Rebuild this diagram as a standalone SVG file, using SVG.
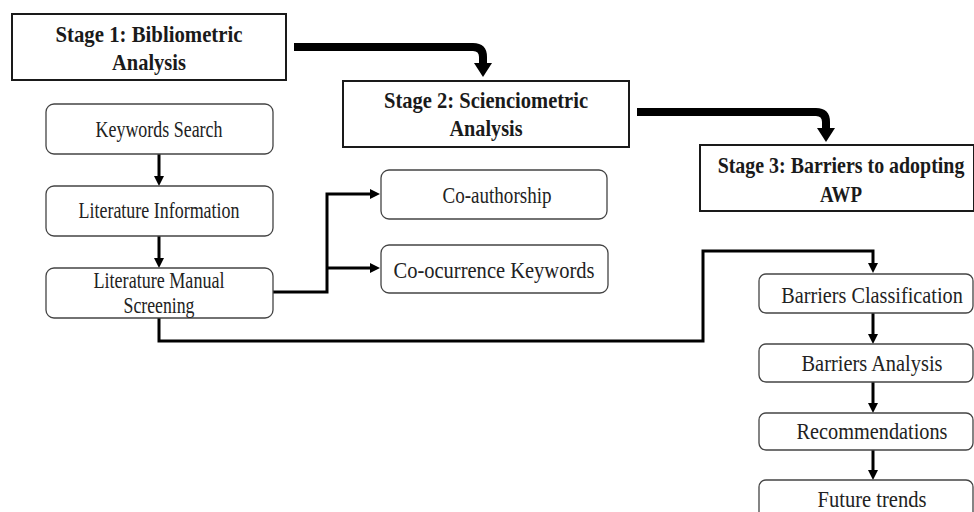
<svg xmlns="http://www.w3.org/2000/svg" width="974" height="512" viewBox="0 0 974 512">
<style>
.stage{fill:#fff;stroke:#1a1a1a;stroke-width:2}
.node{fill:#fff;stroke:#444;stroke-width:1.3}
.bt{font-family:"Liberation Serif","Times New Roman",serif;font-weight:bold;font-size:24px;fill:#1a1a1a;text-anchor:middle}
.t{font-family:"Liberation Serif","Times New Roman",serif;font-size:23px;fill:#222;text-anchor:middle}
.c{fill:none;stroke:#000;stroke-width:3}
.thick{fill:none;stroke:#000;stroke-width:8}
</style>
<defs>
<marker id="ah" markerUnits="userSpaceOnUse" markerWidth="10" markerHeight="10" refX="2" refY="5" orient="auto">
<path d="M0,0 L10,5 L0,10 z" fill="#000"/>
</marker>
</defs>
<rect width="974" height="512" fill="#fff"/>
<g id="connectors">
<path class="thick" d="M294,47 H473 Q483,47 483,57 V64"/>
<polygon points="474,63 492,63 483,77" fill="#000"/>
<path class="thick" d="M637,112 H816 Q826,112 826,122 V129"/>
<polygon points="817,128 835,128 826,142" fill="#000"/>
<path class="c" d="M159,154 V178" marker-end="url(#ah)"/>
<path class="c" d="M159,236 V260" marker-end="url(#ah)"/>
<path class="c" d="M273,292 H327 V194 H372" marker-end="url(#ah)"/>
<path class="c" d="M327,268 H372" marker-end="url(#ah)"/>
<path class="c" d="M159,318 V341 H703 V251 H873 V265" marker-end="url(#ah)"/>
<path class="c" d="M873,313 V336" marker-end="url(#ah)"/>
<path class="c" d="M873,382 V405" marker-end="url(#ah)"/>
<path class="c" d="M873,450 V472" marker-end="url(#ah)"/>
</g>
<g id="stage1">
<rect class="stage" x="12" y="14" width="274" height="66"/>
<text class="bt" x="149" y="42" textLength="187" lengthAdjust="spacingAndGlyphs">Stage 1: Bibliometric</text>
<text class="bt" x="149" y="70" textLength="74" lengthAdjust="spacingAndGlyphs">Analysis</text>
</g>
<g id="stage2">
<rect class="stage" x="343" y="81" width="286" height="66"/>
<text class="bt" x="486" y="108" textLength="204" lengthAdjust="spacingAndGlyphs">Stage 2: Scienciometric</text>
<text class="bt" x="486" y="136" textLength="73" lengthAdjust="spacingAndGlyphs">Analysis</text>
</g>
<g id="stage3">
<rect class="stage" x="700" y="145" width="274" height="66"/>
<text class="bt" transform="translate(841,173) scale(0.83,1)" x="0" y="0">Stage 3: Barriers to adopting</text>
<text class="bt" x="841" y="202" textLength="42" lengthAdjust="spacingAndGlyphs">AWP</text>
</g>
<g id="keywords-search">
<rect class="node" x="46" y="104" width="227" height="50" rx="8"/>
<text class="t" x="159" y="137" textLength="127" lengthAdjust="spacingAndGlyphs">Keywords Search</text>
</g>
<g id="literature-information">
<rect class="node" x="46" y="186" width="227" height="50" rx="8"/>
<text class="t" x="159" y="218" textLength="161" lengthAdjust="spacingAndGlyphs">Literature Information</text>
</g>
<g id="literature-manual-screening">
<rect class="node" x="46" y="268" width="227" height="50" rx="8"/>
<text class="t" x="159" y="288" textLength="131" lengthAdjust="spacingAndGlyphs">Literature Manual</text>
<text class="t" x="159" y="313" textLength="71" lengthAdjust="spacingAndGlyphs">Screening</text>
</g>
<g id="co-authorship">
<rect class="node" x="381" y="170" width="226" height="49" rx="8"/>
<text class="t" x="497" y="203" textLength="109" lengthAdjust="spacingAndGlyphs">Co-authorship</text>
</g>
<g id="co-ocurrence-keywords">
<rect class="node" x="381" y="245" width="227" height="48" rx="8"/>
<text class="t" x="494" y="278" textLength="201" lengthAdjust="spacingAndGlyphs">Co-ocurrence Keywords</text>
</g>
<g id="barriers-classification">
<rect class="node" x="759" y="274" width="214" height="39" rx="7"/>
<text class="t" transform="translate(872,303) scale(0.88,1)" x="0" y="0">Barriers Classification</text>
</g>
<g id="barriers-analysis">
<rect class="node" x="759" y="344" width="214" height="38" rx="7"/>
<text class="t" x="872" y="371" textLength="141" lengthAdjust="spacingAndGlyphs">Barriers Analysis</text>
</g>
<g id="recommendations">
<rect class="node" x="759" y="413" width="214" height="37" rx="7"/>
<text class="t" x="872" y="439" textLength="151" lengthAdjust="spacingAndGlyphs">Recommendations</text>
</g>
<g id="future-trends">
<rect class="node" x="759" y="480" width="214" height="40" rx="7"/>
<text class="t" x="872" y="507" textLength="109" lengthAdjust="spacingAndGlyphs">Future trends</text>
</g>
</svg>
